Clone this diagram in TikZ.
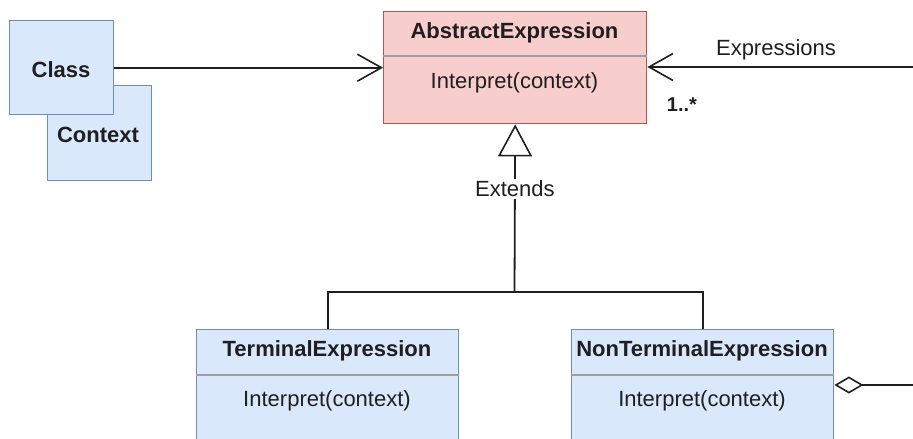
\documentclass[tikz,border=0pt]{standalone}
\usepackage{fontspec}
\setmainfont{Liberation Sans}
\usetikzlibrary{arrows.meta}
\definecolor{blueFill}{HTML}{DAE8FC}
\definecolor{blueLine}{HTML}{6C8EBF}
\definecolor{redFill}{HTML}{F8CECC}
\definecolor{redLine}{HTML}{B85450}
\definecolor{ink}{HTML}{1F1F1F}
\tikzset{
  x=1pt, y=-1pt,
  every node/.style={font=\fontsize{22}{26}\selectfont, text=ink, inner sep=0pt},
  txt/.style={yshift=-2pt},
  bluebox/.style={draw=blueLine, fill=blueFill, line width=1.4pt, anchor=north west},
  redbox/.style={draw=redLine, fill=redFill, line width=1.4pt, anchor=north west},
  title/.style={txt, font=\fontsize{22}{26}\selectfont\bfseries},
  sep/.style={draw=gray!75, line width=1.4pt},
  conn/.style={draw=ink, line width=1.8pt},
  assoc/.style={conn, -{Straight Barb[length=24pt, width=27pt, line width=1.6pt]}},
  inherit/.style={conn, -{Triangle[open, length=32pt, width=34pt, line width=1.6pt, fill=white]}},
  aggr/.style={conn, -{Diamond[open, length=29pt, width=17pt, line width=1.6pt, fill=white]}},
}
\begin{document}
\begin{tikzpicture}
\clip (0,0) rectangle (913,439);

% Context / Class stacked boxes
\node[bluebox, minimum width=104pt, minimum height=95pt] (ctx) at (47,85) {};
\node[title] (ctxT) at (98,133) {Context};
\node[bluebox, minimum width=104pt, minimum height=94pt] (cls) at (9,20) {};
\node[title] (clsT) at (61,68) {Class};

% AbstractExpression
\node[redbox, minimum width=263pt, minimum height=112pt] (abs) at (383,11) {};
\node[title] (absT) at (514.5,31) {AbstractExpression};
\draw[sep] ([yshift=-45pt]abs.north west) -- ([yshift=-45pt]abs.north east);
\node[txt] (absM) at (514.5,81) {Interpret(context)};

% TerminalExpression
\node[bluebox, minimum width=262pt, minimum height=140pt] (term) at (196,329) {};
\node[title] (termT) at (327,349) {TerminalExpression};
\draw[sep] ([yshift=-46pt]term.north west) -- ([yshift=-46pt]term.north east);
\node[txt] (termM) at (327,399) {Interpret(context)};

% NonTerminalExpression
\node[bluebox, minimum width=262pt, minimum height=140pt] (nonterm) at (571,329) {};
\node[title] (ntT) at (702,349) {NonTerminalExpression};
\draw[sep] ([yshift=-46pt]nonterm.north west) -- ([yshift=-46pt]nonterm.north east);
\node[txt] (ntM) at (702,399) {Interpret(context)};

% Connectors
\draw[assoc] (cls.east) -- (abs.west |- cls.east);

\coordinate (exprEnd) at (913,67);
\draw[assoc] (exprEnd) -- (abs.east |- exprEnd);
\node[txt] (exprL) at (776,48) {Expressions};
\node[txt, font=\fontsize{20}{24}\selectfont\bfseries] (mult) at (682,103) {1..*};

\coordinate (junc) at (514.5,292);
\draw[conn] (term.north) |- (junc) -| (nonterm.north);
\draw[inherit] (junc) -- node[pos=0.615, fill=white, inner sep=2pt] (extL) {Extends} (abs.south);

\coordinate (aggEnd) at (913,385);
\draw[aggr] (aggEnd) -- (nonterm.east |- aggEnd);
\end{tikzpicture}
\end{document}
